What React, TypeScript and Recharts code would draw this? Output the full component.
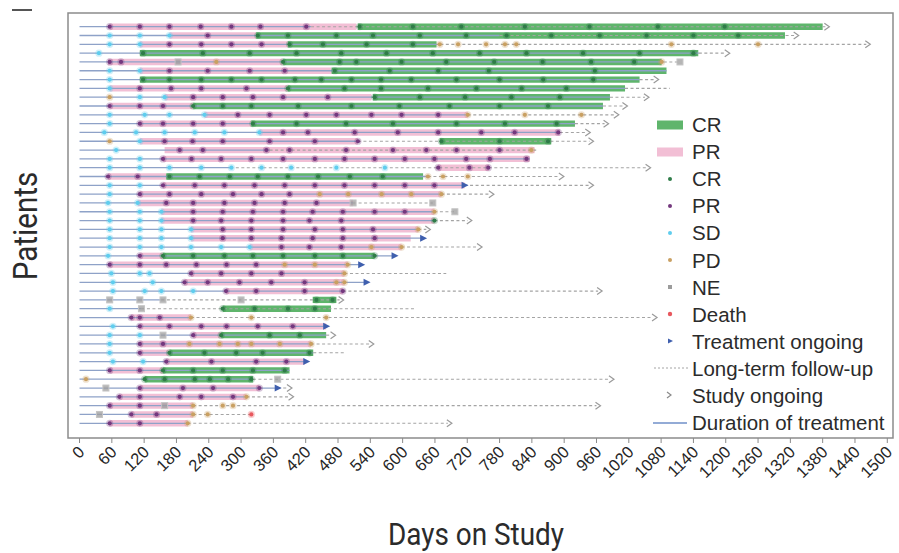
import React from 'react'
import { ComposedChart, XAxis, YAxis, Scatter, ReferenceArea, ReferenceLine } from 'recharts'

// swimmer plot: one row per patient, days on study along x
const dayTicks = [0, 60, 120, 180, 240, 300, 360, 420, 480, 540, 600, 660, 720, 780, 840, 900, 960, 1020, 1080, 1140, 1200, 1260, 1320, 1380, 1440, 1500]

// last day on treatment, patient 1..46
const treatmentEnd = [
  430, 780, 670, 1150, 1085, 1090, 1040, 1013, 985, 972,
  721, 920, 892, 517, 353, 836, 280, 647, 715, 672,
  508, 659, 659, 629, 638, 598, 585, 523, 492, 533,
  489, 152, 115, 207, 458, 458, 430, 434, 421, 390,
  322, 368, 310, 211, 211, 201,
]

// [patient, last follow-up day, study ongoing (1/0)]
const followUp: [number, number, number][] = [
  [1, 1385, 1], [2, 1328, 1], [3, 1461, 1], [4, 1200, 1], [5, 1115, 0], [7, 1068, 1], [8, 1096, 0],
  [9, 1050, 1], [10, 1010, 1], [11, 994, 1], [12, 975, 1], [13, 941, 1], [14, 947, 1], [15, 848, 0],
  [17, 1053, 1], [18, 892, 1], [19, 947, 1], [20, 762, 1], [21, 656, 0], [22, 697, 0], [23, 721, 1],
  [24, 644, 1], [26, 740, 1], [29, 681, 0], [31, 963, 1], [32, 483, 1], [33, 625, 0], [34, 1065, 1],
  [36, 468, 1], [37, 539, 1], [38, 495, 0], [41, 985, 1], [42, 387, 1], [43, 390, 1], [44, 960, 1],
  [45, 319, 0], [46, 684, 1],
]

const treatmentOngoing = [19, 25, 27, 28, 30, 35, 39, 42]

// response duration bars [patient, start, end]
const crBars: [number, number, number][] = [
  [1, 517, 1380], [2, 328, 1310], [3, 387, 663], [4, 112, 1149], [5, 378, 1081], [6, 468, 1090],
  [7, 112, 1040], [8, 387, 1013], [9, 545, 985], [10, 211, 972], [12, 319, 920], [14, 669, 876],
  [18, 161, 638], [27, 155, 548], [32, 433, 477], [33, 266, 467], [36, 263, 458], [38, 167, 434],
  [40, 155, 390], [41, 121, 322],
]

const prBars: [number, number, number][] = [
  [1, 56, 514], [2, 167, 328], [3, 112, 387], [5, 53, 378], [6, 112, 468], [8, 56, 387], [9, 158, 542],
  [10, 56, 211], [11, 232, 721], [12, 112, 319], [13, 334, 892], [14, 112, 517], [15, 158, 845],
  [16, 155, 836], [17, 666, 760], [18, 53, 161], [19, 155, 715], [20, 112, 672], [21, 108, 508],
  [22, 152, 659], [23, 152, 659], [24, 207, 629], [25, 207, 615], [26, 316, 598], [27, 112, 155],
  [28, 56, 498], [29, 207, 492], [30, 195, 492], [31, 272, 489], [34, 96, 207], [35, 112, 458],
  [36, 211, 263], [37, 112, 430], [38, 112, 167], [39, 161, 418], [40, 56, 155], [42, 112, 334],
  [43, 74, 310], [44, 56, 211], [45, 96, 211], [46, 56, 201],
]

// tumour assessments [patient, days]
const crMarks: [number, number[]][] = [
  [1, [520, 619, 709, 827, 947, 1074, 1198]],
  [2, [331, 387, 477, 545, 632, 718, 793, 876, 966, 1053, 1140, 1223]],
  [3, [390, 452, 533, 619]],
  [4, [118, 229, 316, 403, 486, 570, 656, 743, 830, 935, 1040, 1140]],
  [5, [378, 483, 514, 598, 681, 770, 860, 950, 1030]],
  [6, [474, 576, 666, 760, 957]],
  [7, [118, 167, 226, 282, 338, 400, 449, 505, 560, 616, 700, 780, 861, 954]],
  [8, [387, 492, 560, 647, 737, 821, 904]],
  [9, [548, 632, 716, 802, 892]],
  [10, [211, 266, 319, 406, 505, 594, 687, 780, 870]],
  [12, [322, 403, 495, 582, 700, 790, 886]],
  [14, [672, 780, 870]],
  [18, [167, 223, 279, 331, 387, 443, 502, 563]],
  [23, [659]],
  [27, [155, 211, 269, 322, 378, 437, 489, 548]],
  [32, [440, 470]],
  [33, [266, 325, 387, 437]],
  [36, [263, 353, 409]],
  [38, [167, 232, 291, 340, 427]],
  [40, [155, 211, 266, 322, 381]],
  [41, [121, 158, 214, 242, 276, 319]],
]

const prMarks: [number, number[]][] = [
  [1, [56, 112, 167, 225, 282, 336, 421]], [2, [238]], [3, [167, 226, 282, 338]], [5, [56, 77]],
  [6, [167, 238, 316, 381]], [8, [112, 170, 226, 310]], [9, [211, 266, 322, 378, 461]], [10, [56, 112, 155]],
  [11, [294, 353, 421, 477, 542, 598, 666]], [12, [112, 155, 211, 266]],
  [13, [378, 424, 511, 591, 666, 746, 808, 889]], [14, [158, 210, 266, 353, 437, 517]],
  [15, [186, 229, 347, 390, 495, 582, 644, 700, 780]],
  [16, [155, 208, 263, 319, 378, 437, 492, 548, 604, 659, 718, 762, 830]], [17, [666, 724, 759]],
  [18, [53, 108]], [19, [155, 214, 269, 325, 381, 437, 492, 548, 604, 659]], [20, [112, 167, 226, 285, 338, 390]],
  [21, [161, 211, 269, 325, 381, 440]], [22, [211, 266, 322, 378, 433, 489, 548, 604]],
  [23, [211, 263, 319, 378, 427, 486]], [24, [266, 319, 378, 437, 489, 545]], [25, [266, 319, 375, 433, 489, 548]],
  [26, [375, 427, 486]], [27, [112]], [28, [56, 112, 161, 217, 273, 328]], [29, [207, 263, 319, 375]],
  [30, [195, 238, 297, 356, 418]], [31, [272, 328, 418, 489]], [34, [96, 112, 149]],
  [35, [112, 167, 226, 273, 331, 396]], [36, [211]], [37, [112, 155]], [38, [112]], [39, [161, 245, 328, 384]],
  [40, [56, 112]], [42, [112, 192, 248, 334]], [43, [74, 112, 186, 226, 285]], [44, [56, 112]], [45, [96, 143]],
  [46, [56, 112]],
]

const sdMarks: [number, number[]][] = [
  [2, [56, 112, 167]], [3, [56, 112]], [4, [36]], [6, [56, 112]], [7, [56]], [8, [56]], [9, [112, 158]],
  [11, [56, 121, 167, 232]], [12, [56]], [13, [46, 105, 158, 214, 269, 334]], [14, [112]], [15, [68]],
  [16, [56, 112]], [17, [56, 112, 167, 226, 282, 338, 393, 477, 567]], [19, [56, 112]], [20, [56]],
  [21, [53, 108]], [22, [56, 112, 152]], [23, [56, 112, 152]], [24, [56, 112, 152, 207]],
  [25, [56, 112, 152, 207]], [26, [56, 112, 152, 207, 263, 316]], [27, [53]], [29, [59, 112, 130]],
  [30, [62, 136]], [31, [62, 121, 152, 211]], [33, [56]], [35, [62]], [36, [56, 112]], [37, [56]],
  [38, [56]], [39, [62, 118]],
]

const pdMarks: [number, number[]][] = [
  [3, [669, 703, 755, 790, 811, 1099, 1260]], [5, [254, 1081]], [9, [56]], [11, [721, 827, 932]], [14, [56]],
  [15, [839]], [18, [647, 675, 721]], [20, [446, 499, 561, 616, 672]], [22, [659]], [24, [629]],
  [26, [542, 598]], [28, [381, 437, 498]], [29, [492]], [30, [477, 492]], [34, [207, 319, 458]],
  [37, [204, 260, 294, 319, 372, 430]], [41, [12]], [43, [310]], [44, [211, 266, 285]], [45, [211, 238]],
  [46, [201]],
]

const neMarks: [number, number[]][] = [
  [5, [183, 1115]], [21, [508, 656]], [22, [697]], [32, [56, 112, 155, 300]], [33, [115]], [36, [155]],
  [41, [368]], [42, [49]], [44, [158]], [45, [37]],
]

const deathMarks: [number, number[]][] = [[45, [319]]]

const X_DOMAIN: [number, number] = [-21.4, 1510.6]
const Y_DOMAIN: [number, number] = [-0.555, 47.67]
const BAR_HALF = 0.36

const COLORS = {
  crBar: '#5fb56c',
  prBar: '#f2bfd5',
  cr: '#2f7c48',
  pr: '#74387e',
  sd: '#5fcdee',
  pd: '#c9a062',
  ne: '#9c9c9c',
  death: '#e8585e',
  ongoing: '#3f5fae',
  treatment: '#8ea2c8',
  followUp: '#a4a4a4',
  text: '#2b2b2b',
}

const toPoints = (list: [number, number[]][]) =>
  list.flatMap(([p, days]) => days.map(d => ({ x: d, y: p })))

const dotShape = (color: string) => (props: any) => {
  const { cx, cy } = props
  if (cx == null || cy == null) return <g />
  return (
    <g>
      <circle cx={cx} cy={cy} r={3.6} fill={color} fillOpacity={0.3} />
      <circle cx={cx} cy={cy} r={2.1} fill={color} />
    </g>
  )
}

const squareShape = (props: any) => {
  const { cx, cy } = props
  if (cx == null || cy == null) return <g />
  return <rect x={cx - 3} y={cy - 3} width={6} height={6} fill={COLORS.ne} fillOpacity={0.75} stroke="#c4c4c4" />
}

const triangleShape = (props: any) => {
  const { cx, cy } = props
  if (cx == null || cy == null) return <g />
  return <path d={`M${cx - 3},${cy - 3.5} L${cx + 4},${cy} L${cx - 3},${cy + 3.5} Z`} fill={COLORS.ongoing} />
}

const chevronShape = (props: any) => {
  const { cx, cy } = props
  if (cx == null || cy == null) return <g />
  return <path d={`M${cx - 1},${cy - 3.5} L${cx + 4},${cy} L${cx - 1},${cy + 3.5}`} fill="none" stroke="#9a9a9a" strokeWidth={1.2} />
}

const AngledTick = (props: any) => {
  const { x, y, payload } = props
  const ax = x + 6
  const ay = y + 8
  return (
    <text
      x={ax}
      y={ay}
      textAnchor="end"
      transform={`rotate(-45 ${ax} ${ay})`}
      fontSize={16.5}
      fontFamily="'Liberation Sans', Arial, sans-serif"
      fill="#262626"
    >
      {payload.value}
    </text>
  )
}

const legendItems: { label: string; symbol: React.ReactNode }[] = [
  { label: 'CR', symbol: <rect x={7} y={-4.5} width={26} height={9} fill={COLORS.crBar} /> },
  { label: 'PR', symbol: <rect x={7} y={-4.5} width={26} height={9} fill={COLORS.prBar} /> },
  { label: 'CR', symbol: <circle cx={20} cy={0} r={2} fill={COLORS.cr} /> },
  { label: 'PR', symbol: <circle cx={20} cy={0} r={2} fill={COLORS.pr} /> },
  { label: 'SD', symbol: <circle cx={20} cy={0} r={2} fill={COLORS.sd} /> },
  { label: 'PD', symbol: <circle cx={20} cy={0} r={2} fill={COLORS.pd} /> },
  { label: 'NE', symbol: <rect x={18} y={-2} width={4} height={4} fill={COLORS.ne} /> },
  { label: 'Death', symbol: <circle cx={20} cy={0} r={2.2} fill={COLORS.death} /> },
  { label: 'Treatment ongoing', symbol: <path d="M18,-2.5 L23,0 L18,2.5 Z" fill={COLORS.ongoing} /> },
  { label: 'Long-term follow-up', symbol: <line x1={4} y1={0} x2={40} y2={0} stroke={COLORS.followUp} strokeDasharray="2 2" /> },
  { label: 'Study ongoing', symbol: <path d="M17,-3 L21,0 L17,3" fill="none" stroke="#8a8a8a" strokeWidth={1.2} /> },
  { label: 'Duration of treatment', symbol: <line x1={3} y1={0} x2={37} y2={0} stroke="#6f8fc8" strokeWidth={1.3} /> },
]

function SwimmerLegend() {
  return (
    <div style={{ position: 'absolute', left: 650, top: 111, fontFamily: "'Liberation Sans', Arial, sans-serif" }}>
      {legendItems.map((item, i) => (
        <div key={i} style={{ display: 'flex', alignItems: 'center', height: 27.1 }}>
          <svg width={42} height={12} viewBox="0 -6 42 12" style={{ overflow: 'visible' }}>
            {item.symbol}
          </svg>
          <span style={{ fontSize: 20.5, color: COLORS.text, lineHeight: '27px', whiteSpace: 'nowrap' }}>{item.label}</span>
        </div>
      ))}
    </div>
  )
}

export default function App() {
  const followUpPoints = followUp.filter(f => f[2] === 1).map(([p, end]) => ({ x: end, y: p }))
  const ongoingPoints = treatmentOngoing.map(p => ({ x: treatmentEnd[p - 1], y: p }))

  return (
    <div style={{ position: 'absolute', left: 0, top: 0, width: 899, height: 553, background: '#fff', overflow: 'hidden' }}>
      <div style={{ position: 'absolute', left: 12, top: 9, width: 20, height: 2, background: '#555' }} />

      <ComposedChart width={899} height={553} margin={{ top: 13, right: 6, bottom: 0, left: 68 }}>
        <XAxis
          type="number"
          dataKey="x"
          domain={X_DOMAIN}
          ticks={dayTicks}
          interval={0}
          allowDataOverflow
          axisLine={false}
          tickLine={{ stroke: '#8a8a8a' }}
          tickSize={5}
          height={115}
          tick={<AngledTick />}
        />
        <YAxis type="number" dataKey="y" domain={Y_DOMAIN} reversed hide allowDataOverflow />

        <ReferenceArea
          x1={X_DOMAIN[0]}
          x2={X_DOMAIN[1]}
          y1={Y_DOMAIN[0]}
          y2={Y_DOMAIN[1]}
          fill="none"
          stroke="#8c8c8c"
          strokeWidth={1.5}
          ifOverflow="visible"
        />

        {prBars.map(([p, s, e], i) => (
          <ReferenceArea key={`pr-${i}`} x1={s} x2={e} y1={p - BAR_HALF} y2={p + BAR_HALF} fill={COLORS.prBar} fillOpacity={1} stroke="none" />
        ))}
        {crBars.map(([p, s, e], i) => (
          <ReferenceArea key={`cr-${i}`} x1={s} x2={e} y1={p - BAR_HALF} y2={p + BAR_HALF} fill={COLORS.crBar} fillOpacity={1} stroke="none" />
        ))}

        {treatmentEnd.map((end, i) => (
          <ReferenceLine
            key={`trt-${i}`}
            segment={[{ x: 0, y: i + 1 }, { x: end, y: i + 1 }]}
            stroke={COLORS.treatment}
            strokeWidth={1.3}
          />
        ))}
        {followUp.map(([p, end], i) => (
          <ReferenceLine
            key={`fu-${i}`}
            segment={[{ x: treatmentEnd[p - 1], y: p }, { x: end, y: p }]}
            stroke={COLORS.followUp}
            strokeWidth={1.1}
            strokeDasharray="3 2.5"
          />
        ))}

        <Scatter data={toPoints(sdMarks)} shape={dotShape(COLORS.sd)} isAnimationActive={false} />
        <Scatter data={toPoints(prMarks)} shape={dotShape(COLORS.pr)} isAnimationActive={false} />
        <Scatter data={toPoints(crMarks)} shape={dotShape(COLORS.cr)} isAnimationActive={false} />
        <Scatter data={toPoints(pdMarks)} shape={dotShape(COLORS.pd)} isAnimationActive={false} />
        <Scatter data={toPoints(neMarks)} shape={squareShape} isAnimationActive={false} />
        <Scatter data={toPoints(deathMarks)} shape={dotShape(COLORS.death)} isAnimationActive={false} />
        <Scatter data={ongoingPoints} shape={triangleShape} isAnimationActive={false} />
        <Scatter data={followUpPoints} shape={chevronShape} isAnimationActive={false} />
      </ComposedChart>

      <SwimmerLegend />

      <div
        style={{
          position: 'absolute', left: 326, top: 519, width: 300, textAlign: 'center',
          fontFamily: 'Roboto, sans-serif', fontSize: 31, lineHeight: '31px', color: COLORS.text,
          transform: 'scaleX(0.9)',
        }}
      >
        Days on Study
      </div>
      <div
        style={{
          position: 'absolute', left: -55, top: 209, width: 160, height: 34, textAlign: 'center',
          fontFamily: 'Roboto, sans-serif', fontSize: 34, lineHeight: '34px', color: COLORS.text,
          transform: 'rotate(-90deg) scaleX(0.87)',
        }}
      >
        Patients
      </div>
    </div>
  )
}
